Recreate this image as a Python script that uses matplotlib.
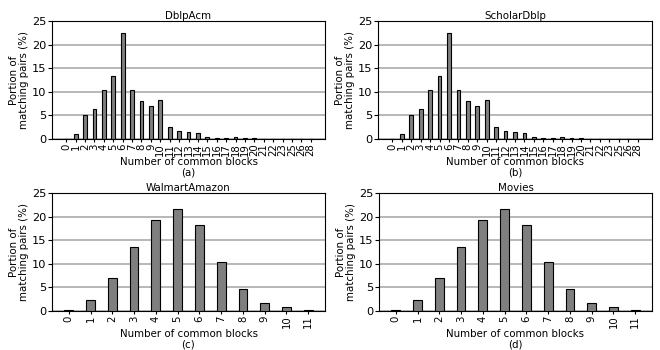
import matplotlib
matplotlib.use('Agg')
import matplotlib.pyplot as plt
import numpy as np

# number of common blocks (categories) and share of matching pairs (%)
blocks_top = ['0', '1', '2', '3', '4', '5', '6', '7', '8', '9', '10', '11', '12', '13',
              '14', '15', '16', '17', '18', '19', '20', '21', '22', '23', '25', '26', '28']
dblp_acm = [0.1, 1.0, 5.0, 6.3, 10.3, 13.3, 22.5, 10.3, 8.0, 6.9, 8.2, 2.6, 1.8, 1.4,
            1.2, 0.5, 0.3, 0.2, 0.4, 0.2, 0.15, 0.1, 0.1, 0.1, 0.1, 0.1, 0.1]
scholar_dblp = [0.1, 1.0, 5.0, 6.3, 10.3, 13.3, 22.5, 10.3, 8.0, 6.9, 8.2, 2.6, 1.8, 1.4,
                1.2, 0.5, 0.3, 0.2, 0.4, 0.2, 0.15, 0.1, 0.1, 0.1, 0.1, 0.1, 0.1]

blocks_bottom = ['0', '1', '2', '3', '4', '5', '6', '7', '8', '9', '10', '11']
walmart_amazon = [0.2, 2.4, 7.0, 13.5, 19.3, 21.7, 18.2, 10.4, 4.7, 1.8, 0.9, 0.2]
movies = [0.2, 2.4, 7.0, 13.5, 19.3, 21.7, 18.2, 10.4, 4.7, 1.8, 0.9, 0.2]

panels = [
    ('DblpAcm', blocks_top, dblp_acm, '(a)'),
    ('ScholarDblp', blocks_top, scholar_dblp, '(b)'),
    ('WalmartAmazon', blocks_bottom, walmart_amazon, '(c)'),
    ('Movies', blocks_bottom, movies, '(d)'),
]

fig = plt.figure(figsize=(6.6, 3.5), dpi=100)
rects = [
    [52 / 660, 1 - 139 / 350, 273 / 660, 118 / 350],
    [378 / 660, 1 - 139 / 350, 274 / 660, 118 / 350],
    [52 / 660, 1 - 311 / 350, 273 / 660, 118 / 350],
    [379 / 660, 1 - 311 / 350, 273 / 660, 118 / 350],
]

for rect, (title, cats, vals, tag) in zip(rects, panels):
    ax = fig.add_axes(rect)
    x = np.arange(len(cats))
    ax.bar(x, vals, width=0.4, color='#7f7f7f', edgecolor='black', linewidth=0.8, zorder=3)
    ax.set_ylim(0, 25)
    ax.set_yticks([0, 5, 10, 15, 20, 25])
    ax.yaxis.grid(True, color='#b8b8b8', linewidth=1.4, zorder=0)
    ax.set_axisbelow(True)
    ax.set_xticks(x)
    ax.set_xticklabels(cats, rotation=90, fontsize=7.3)
    ax.tick_params(axis='y', labelsize=8.2, length=3, pad=1)
    ax.tick_params(axis='x', length=2, pad=1)
    ax.set_title(title, fontsize=7.4, pad=1.5)
    ax.set_xlabel('Number of common blocks\n' + tag, fontsize=7.4, labelpad=1, linespacing=1.05)
    ax.set_ylabel('Portion of\nmatching pairs (%)', fontsize=7.4, labelpad=2, linespacing=1.0)

fig.savefig('out.png', dpi=100)
